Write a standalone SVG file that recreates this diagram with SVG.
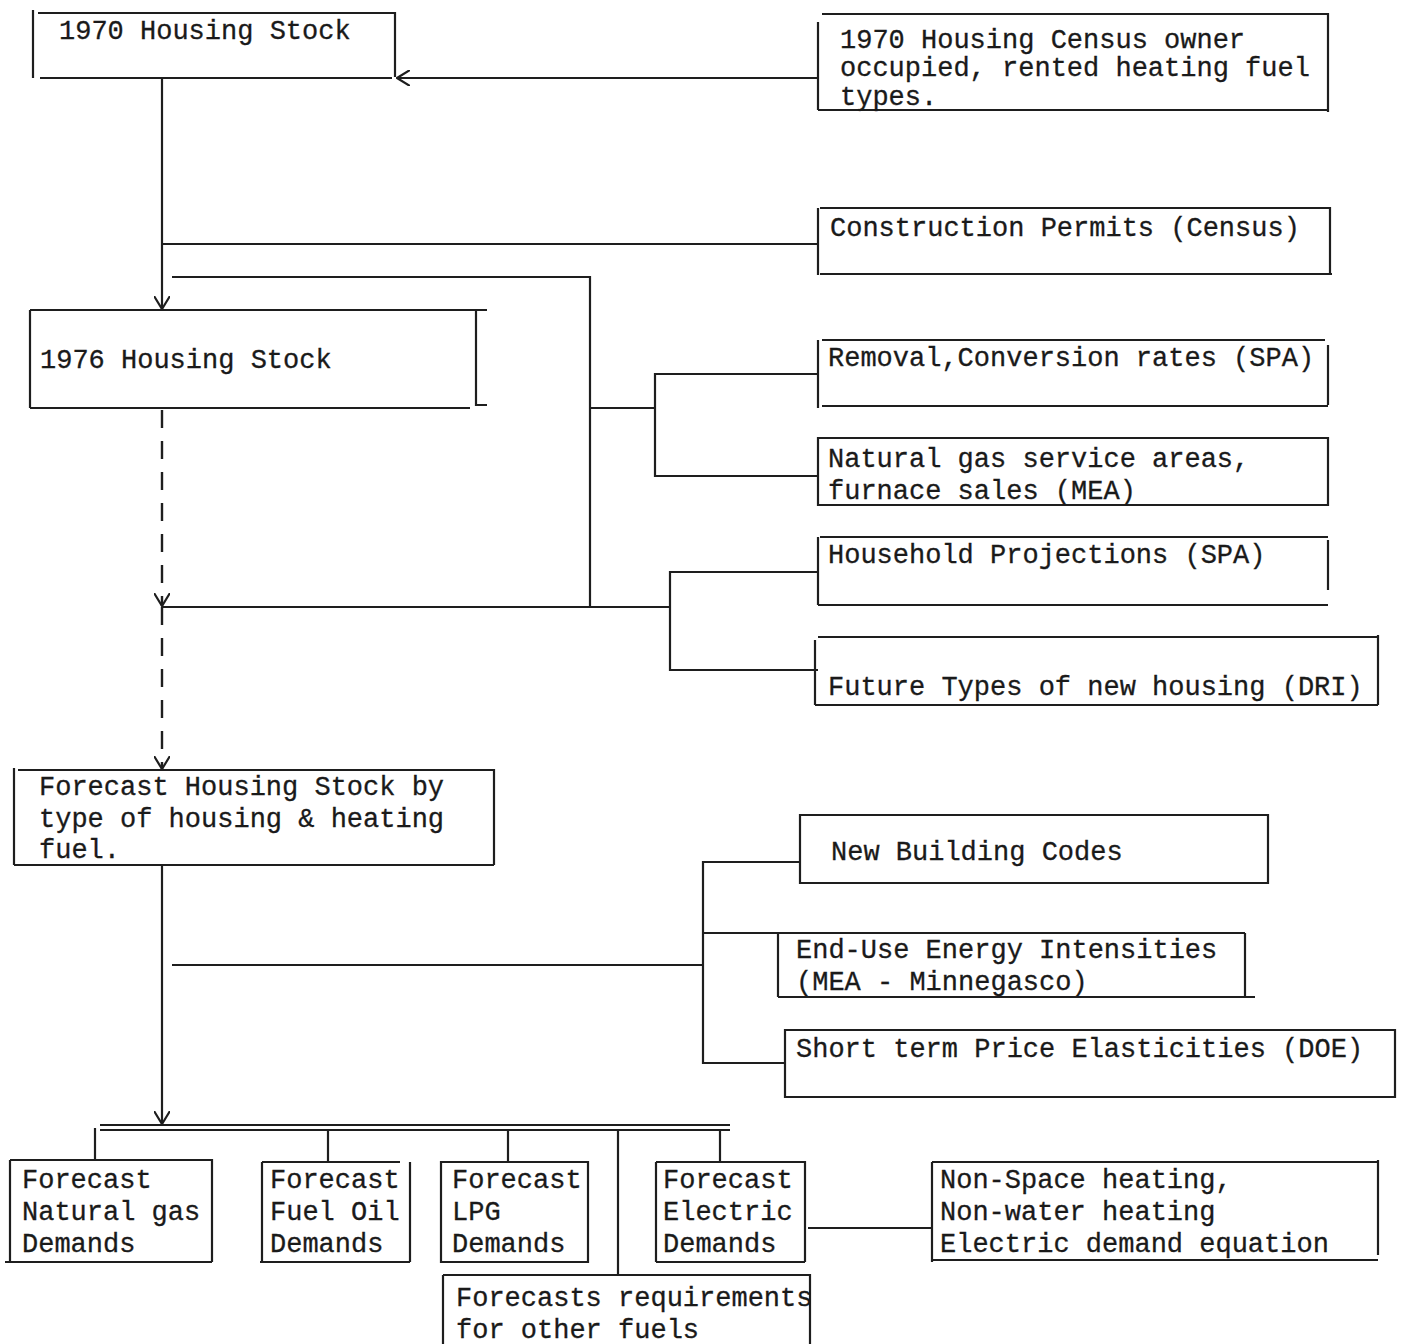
<svg xmlns="http://www.w3.org/2000/svg" width="1402" height="1344" viewBox="0 0 1402 1344">
  <style>
    .box { fill: none; stroke: #1e1e1e; stroke-width: 2.2; }
    .wire { fill: none; stroke: #1e1e1e; stroke-width: 2.2; }
    .dash { fill: none; stroke: #1e1e1e; stroke-width: 2.4; stroke-dasharray: 18 13; }
    text { font-family: "Liberation Mono", "Courier New", monospace; font-size: 27px; fill: #1a1a1a; stroke: #1a1a1a; stroke-width: 0.3; }
  </style>
  <defs>
    <marker id="vee" viewBox="0 0 14 16" refX="13" refY="8" markerWidth="14" markerHeight="16" markerUnits="userSpaceOnUse" orient="auto">
      <path d="M0,0 L13,8 L0,16" fill="none" stroke="#1e1e1e" stroke-width="2.2"/>
    </marker>
  </defs>
  <rect width="1402" height="1344" fill="#ffffff"/>

  <!-- connectors -->
  <g id="connectors">
    <path class="wire" d="M818,78 H397" marker-end="url(#vee)"/>
    <path class="wire" d="M162,78 V309" marker-end="url(#vee)"/>
    <path class="wire" d="M818,244 H162"/>
    <path class="wire" d="M172,277 H590 V607"/>
    <path class="wire" d="M590,408 H655"/>
    <path class="wire" d="M818,374 H655 V476 H818"/>
    <path class="wire" d="M818,572 H670 V670 H818"/>
    <path class="wire" d="M670,607 H162"/>
    <path class="dash" d="M162,410 V606" marker-end="url(#vee)"/>
    <path class="dash" d="M162,607 V769" marker-end="url(#vee)"/>
    <path class="wire" d="M162,865 V1124" marker-end="url(#vee)"/>
    <path class="wire" d="M703,965 H172"/>
    <path class="wire" d="M800,862 H703 V1063 H784"/>
    <path class="wire" d="M703,933 H778"/>
    <path class="wire" d="M100,1125 H730 M100,1130 H730"/>
    <path class="wire" d="M95,1128 V1160 M328,1130 V1162 M508,1130 V1162 M720,1130 V1162 M618,1130 V1275"/>
    <path class="wire" d="M808,1228 H932"/>
  </g>

  <g id="stock-1970">
    <path class="box" d="M33,10 V78 M38,13 H395 V77 M40,78 H392"/>
    <text x="59" y="39">1970 Housing Stock</text>
  </g>

  <g id="census-1970">
    <path class="box" d="M818,22 V110 M822,14 H1328 V112 M818,110 H1328"/>
    <text x="840" y="48">1970 Housing Census owner</text>
    <text x="840" y="76">occupied, rented heating fuel</text>
    <text x="840" y="105">types.</text>
  </g>

  <g id="construction-permits">
    <path class="box" d="M818,208 V275 M820,208 H1330 V275 M820,274 H1332"/>
    <text x="830" y="236">Construction Permits (Census)</text>
  </g>

  <g id="stock-1976">
    <path class="box" d="M30,310 V408 M30,310 H487 M476,310 V405 H487 M30,408 H470"/>
    <text x="40" y="368">1976 Housing Stock</text>
  </g>

  <g id="removal-rates">
    <path class="box" d="M818,340 V408 M822,340 H1325 M1328,345 V405 M822,406 H1328"/>
    <text x="828" y="366">Removal,Conversion rates (SPA)</text>
  </g>

  <g id="gas-service">
    <path class="box" d="M818,438 H1328 V505 H818 Z"/>
    <text x="828" y="467">Natural gas service areas,</text>
    <text x="828" y="499">furnace sales (MEA)</text>
  </g>

  <g id="household-projections">
    <path class="box" d="M818,537 V605 M820,537 H1328 M1328,540 V590 M818,605 H1328"/>
    <text x="828" y="563">Household Projections (SPA)</text>
  </g>

  <g id="future-housing">
    <path class="box" d="M815,640 V705 M818,637 H1378 M1378,635 V705 M815,705 H1378"/>
    <text x="828" y="695">Future Types of new housing (DRI)</text>
  </g>

  <g id="forecast-stock">
    <path class="box" d="M14,768 V865 M18,770 H494 V865 M14,865 H494"/>
    <text x="39" y="795">Forecast Housing Stock by</text>
    <text x="39" y="827">type of housing &amp; heating</text>
    <text x="39" y="858">fuel.</text>
  </g>

  <g id="building-codes">
    <path class="box" d="M800,815 H1268 V883 H800 Z"/>
    <text x="831" y="860">New Building Codes</text>
  </g>

  <g id="end-use">
    <path class="box" d="M710,933 H1245 M778,933 V997 M1245,933 V997 M778,997 H1255"/>
    <text x="796" y="958">End-Use Energy Intensities</text>
    <text x="796" y="990">(MEA - Minnegasco)</text>
  </g>

  <g id="price-elasticities">
    <path class="box" d="M785,1030 H1395 V1097 H785 Z"/>
    <text x="796" y="1057">Short term Price Elasticities (DOE)</text>
  </g>

  <g id="natural-gas-demand">
    <path class="box" d="M10,1160 V1262 M10,1160 H212 V1262 M5,1262 H212"/>
    <text x="22" y="1188">Forecast</text>
    <text x="22" y="1220">Natural gas</text>
    <text x="22" y="1252">Demands</text>
  </g>

  <g id="fuel-oil-demand">
    <path class="box" d="M262,1162 V1262 M262,1162 H400 M410,1162 V1262 M260,1262 H410"/>
    <text x="270" y="1188">Forecast</text>
    <text x="270" y="1220">Fuel Oil</text>
    <text x="270" y="1252">Demands</text>
  </g>

  <g id="lpg-demand">
    <path class="box" d="M441,1162 H588 V1262 H441 Z"/>
    <text x="452" y="1188">Forecast</text>
    <text x="452" y="1220">LPG</text>
    <text x="452" y="1252">Demands</text>
  </g>

  <g id="electric-demand">
    <path class="box" d="M656,1162 V1262 M656,1162 H805 V1262 M656,1262 H805"/>
    <text x="663" y="1188">Forecast</text>
    <text x="663" y="1220">Electric</text>
    <text x="663" y="1252">Demands</text>
  </g>

  <g id="other-fuels">
    <path class="box" d="M443,1275 V1344 M443,1275 H810 V1344"/>
    <text x="456" y="1306">Forecasts requirements</text>
    <text x="456" y="1338">for other fuels</text>
  </g>

  <g id="non-space-heating">
    <path class="box" d="M932,1162 V1262 M932,1162 H1378 M1378,1160 V1255 M932,1260 H1378"/>
    <text x="940" y="1188">Non-Space heating,</text>
    <text x="940" y="1220">Non-water heating</text>
    <text x="940" y="1252">Electric demand equation</text>
  </g>
</svg>
